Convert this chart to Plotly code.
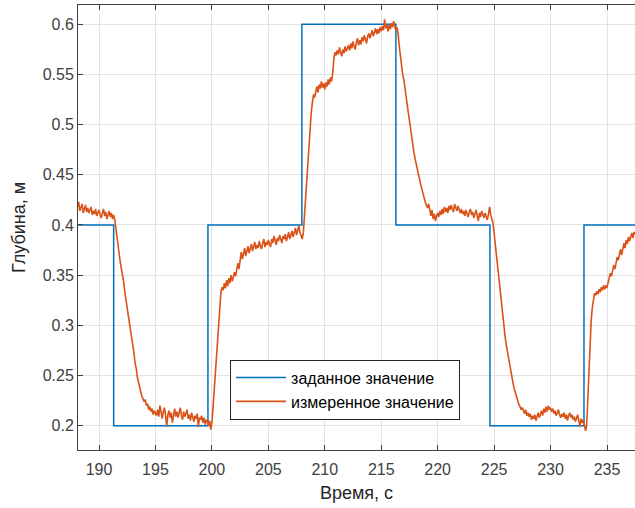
import numpy as np
import plotly.graph_objects as go

# Setpoint (step) data
setpoint_t = [188.1, 191.3, 199.65, 207.97, 216.3, 224.63, 232.96, 237.6]
setpoint_v = [0.4, 0.2, 0.4, 0.6, 0.4, 0.2, 0.4, 0.4]

# Measured data: sampled every 0.1 s starting at 188.1 s
meas_t0 = 188.1
meas_dt = 0.1
measured = [
    0.418, 0.423, 0.414, 0.419, 0.421, 0.412, 0.416, 0.420, 0.413, 0.417,
    0.412, 0.415, 0.418, 0.410, 0.414, 0.411, 0.416, 0.409, 0.413, 0.415,
    0.410, 0.407, 0.412, 0.416, 0.409, 0.413, 0.406, 0.411, 0.414, 0.408,
    0.412, 0.406, 0.410, 0.405, 0.395, 0.384, 0.377, 0.370, 0.362, 0.356,
    0.348, 0.342, 0.332, 0.325, 0.318, 0.309, 0.303, 0.294, 0.287, 0.279,
    0.272, 0.262, 0.257, 0.248, 0.243, 0.238, 0.232, 0.229, 0.227, 0.224,
    0.226, 0.220, 0.222, 0.216, 0.219, 0.214, 0.217, 0.211, 0.215, 0.213,
    0.210, 0.216, 0.209, 0.220, 0.212, 0.207, 0.214, 0.218, 0.210, 0.199,
    0.211, 0.215, 0.208, 0.213, 0.203, 0.212, 0.217, 0.209, 0.214, 0.208,
    0.213, 0.218, 0.210, 0.206, 0.214, 0.209, 0.212, 0.216, 0.207, 0.211,
    0.205, 0.213, 0.209, 0.204, 0.210, 0.207, 0.212, 0.199, 0.208, 0.206,
    0.210, 0.203, 0.208, 0.201, 0.206, 0.204, 0.200, 0.205, 0.196, 0.203,
    0.218, 0.235, 0.255, 0.275, 0.293, 0.310, 0.325, 0.333, 0.338, 0.335,
    0.342, 0.337, 0.345, 0.339, 0.347, 0.342, 0.350, 0.344, 0.348, 0.353,
    0.349, 0.357, 0.362, 0.356, 0.368, 0.373, 0.366, 0.371, 0.377, 0.369,
    0.374, 0.379, 0.372, 0.376, 0.381, 0.374, 0.378, 0.383, 0.376, 0.380,
    0.377, 0.384, 0.379, 0.376, 0.382, 0.386, 0.378, 0.383, 0.380, 0.385,
    0.381, 0.378, 0.386, 0.382, 0.389, 0.383, 0.380, 0.387, 0.384, 0.390,
    0.385, 0.382, 0.389, 0.386, 0.391, 0.384, 0.388, 0.393, 0.386, 0.390,
    0.394, 0.388, 0.392, 0.397, 0.390, 0.395, 0.399, 0.393, 0.389, 0.386,
    0.392, 0.410, 0.430, 0.450, 0.468, 0.484, 0.498, 0.512, 0.522, 0.530,
    0.527, 0.534, 0.538, 0.532, 0.540, 0.536, 0.543, 0.537, 0.541, 0.535,
    0.542, 0.538, 0.545, 0.540, 0.547, 0.543, 0.551, 0.565, 0.572, 0.569,
    0.574, 0.570, 0.577, 0.572, 0.568, 0.575, 0.571, 0.578, 0.573, 0.576,
    0.579, 0.574, 0.581, 0.576, 0.583, 0.578, 0.575, 0.582, 0.586, 0.579,
    0.584, 0.580, 0.587, 0.583, 0.589, 0.585, 0.581, 0.588, 0.591, 0.586,
    0.590, 0.594, 0.588, 0.592, 0.596, 0.590, 0.595, 0.591, 0.597, 0.593,
    0.598, 0.594, 0.605, 0.596, 0.600, 0.593, 0.599, 0.595, 0.601, 0.597,
    0.603, 0.598, 0.594, 0.597, 0.590, 0.578, 0.568, 0.558, 0.550, 0.545,
    0.538, 0.530, 0.520, 0.512, 0.503, 0.494, 0.487, 0.480, 0.472, 0.466,
    0.460, 0.455, 0.449, 0.446, 0.440, 0.436, 0.431, 0.428, 0.423, 0.420,
    0.417, 0.421, 0.413, 0.409, 0.415, 0.406, 0.411, 0.404, 0.409, 0.412,
    0.408, 0.414, 0.410, 0.416, 0.411, 0.418, 0.413, 0.417, 0.412, 0.419,
    0.415, 0.420, 0.416, 0.413, 0.421, 0.417, 0.414, 0.419, 0.415, 0.412,
    0.416, 0.411, 0.414, 0.409, 0.415, 0.412, 0.408, 0.413, 0.416, 0.410,
    0.413, 0.407, 0.411, 0.415, 0.409, 0.404, 0.412, 0.408, 0.414, 0.410,
    0.407, 0.412, 0.409, 0.405, 0.411, 0.418, 0.410, 0.406, 0.402, 0.392,
    0.381, 0.371, 0.360, 0.350, 0.338, 0.326, 0.314, 0.302, 0.293, 0.286,
    0.279, 0.272, 0.266, 0.258, 0.253, 0.246, 0.241, 0.236, 0.232, 0.228,
    0.225, 0.221, 0.219, 0.216, 0.218, 0.214, 0.212, 0.216, 0.210, 0.213,
    0.209, 0.212, 0.206, 0.210, 0.207, 0.211, 0.205, 0.209, 0.213, 0.208,
    0.212, 0.215, 0.210, 0.217, 0.213, 0.219, 0.214, 0.220, 0.216, 0.218,
    0.214, 0.217, 0.212, 0.215, 0.210, 0.213, 0.216, 0.211, 0.208, 0.212,
    0.209, 0.213, 0.207, 0.211, 0.205, 0.210, 0.213, 0.208, 0.211, 0.206,
    0.209, 0.204, 0.208, 0.211, 0.205, 0.199, 0.207, 0.203, 0.206, 0.201,
    0.195, 0.200, 0.230, 0.259, 0.285, 0.305, 0.318, 0.327, 0.332, 0.330,
    0.334, 0.331, 0.336, 0.333, 0.338, 0.335, 0.340, 0.336, 0.339, 0.338,
    0.343, 0.347, 0.352, 0.349, 0.357, 0.360, 0.356, 0.364, 0.368, 0.365,
    0.372, 0.376, 0.370, 0.378, 0.382, 0.377, 0.385, 0.381, 0.388, 0.384,
    0.389, 0.392, 0.387, 0.393, 0.391,
]
measured_t = [round(meas_t0 + meas_dt * i, 2) for i in range(len(measured))]

x_ticks = [190, 195, 200, 205, 210, 215, 220, 225, 230, 235]
y_ticks = [0.2, 0.25, 0.3, 0.35, 0.4, 0.45, 0.5, 0.55, 0.6]
y_ticktext = ["0.2", "0.25", "0.3", "0.35", "0.4", "0.45", "0.5", "0.55", "0.6"]

FONT = "Liberation Sans, Arial, Helvetica, sans-serif"
AX = "#262626"

fig = go.Figure()
fig.add_trace(go.Scatter(
    x=setpoint_t, y=setpoint_v, mode="lines", line_shape="hv",
    line=dict(color="#0072BD", width=1.5), name="заданное значение"))
fig.add_trace(go.Scatter(
    x=measured_t, y=measured, mode="lines",
    line=dict(color="#D95319", width=1.6), name="измеренное значение"))

fig.update_layout(
    width=635, height=508,
    margin=dict(l=78, r=0, t=5, b=58, autoexpand=False),
    plot_bgcolor="white", paper_bgcolor="white",
    font=dict(family=FONT, size=16, color=AX),
    showlegend=True,
    legend=dict(
        x=0.273, y=0.203, xanchor="left", yanchor="top",
        bgcolor="white", bordercolor=AX, borderwidth=1,
        font=dict(family=FONT, size=16, color="#000000"),
        itemwidth=50, tracegroupgap=0,
    ),
    xaxis=dict(
        range=[188.14, 237.48], tickvals=x_ticks,
        showgrid=True, gridcolor="#e3e3e3", gridwidth=1,
        showline=True, linecolor="#404040", linewidth=1, mirror="ticks",
        ticks="inside", ticklen=5, tickcolor="#404040",
        zeroline=False, ticklabelstandoff=5,
        tickfont=dict(size=16, color="#404040"),
        title=dict(text="Время, с", font=dict(size=18, color="#262626"), standoff=9),
    ),
    yaxis=dict(
        range=[0.1758, 0.6192], tickvals=y_ticks, ticktext=y_ticktext,
        showgrid=True, gridcolor="#e3e3e3", gridwidth=1,
        showline=True, linecolor="#404040", linewidth=1, mirror=False,
        ticks="inside", ticklen=5, tickcolor="#404040",
        zeroline=False,
        tickfont=dict(size=16, color="#404040"),
        title=dict(text="Глубина, м", font=dict(size=18, color="#262626"), standoff=12),
    ),
)

fig.write_html("out.html", config={"displayModeBar": False},
               post_script="document.body.style.margin='0';document.body.style.overflow='hidden';")
